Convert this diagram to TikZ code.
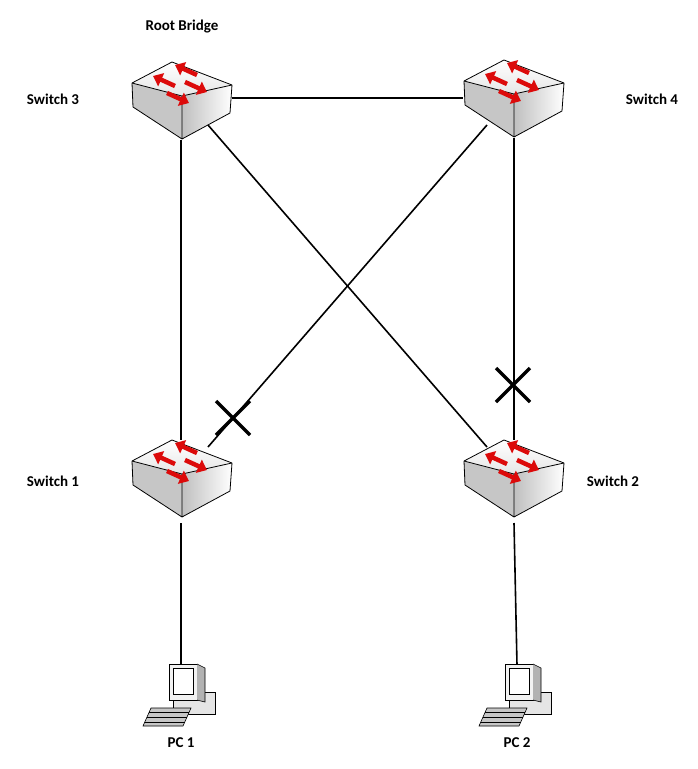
\documentclass[tikz,border=0pt]{standalone}
\usepackage{fontspec}
\setmainfont{Carlito}
\usetikzlibrary{arrows.meta}
\definecolor{arr}{RGB}{220,10,10}
\tikzset{x=1pt,y=-1pt,
 lbl/.style={font=\bfseries\fontsize{15}{17}\selectfont,inner sep=0},
 link/.style={line width=1.6pt},
 xmark/.style={line width=3.2pt},
 sarr/.style={arr,line width=4.5pt,-{Triangle[length=9pt,width=14pt]}},
 switch/.pic={
  \fill[gray!45] (-50,-13) -- (0,0) -- (0,43) -- (-49,11) -- cycle;
  \shade[left color=gray!50,right color=white] (0,0) -- (50,-11) -- (48,17) -- (0,43) -- cycle;
  \shade[top color=white,bottom color=gray!20] (-50,-13) -- (-10,-34) -- (50,-11) -- (0,0) -- cycle;
  \draw[line width=0.8pt,line join=round] (-50,-13) -- (-10,-34) -- (50,-11) -- (48,17) -- (0,43) -- (-49,11) -- cycle (-50,-13) -- (0,0) -- (50,-11) (0,0) -- (0,43);
  \draw[sarr] (15,-21) -- (-7,-31);
  \draw[sarr] (-7,-10) -- (-29,-20);
  \draw[sarr] (3,-14) -- (25,-4);
  \draw[sarr] (-15,-3) -- (7,7);
 },
 pc/.pic={
  \draw[fill=gray!20,line width=0.6pt] (-10,0) -- (32,0) -- (32,22) -- (-10,22) -- cycle;
  \draw[fill=gray!45,line width=0.6pt] (-32,16) -- (8,16) -- (0,34) -- (-40,34) -- cycle;
  \draw[fill=gray!10,line width=0.6pt] (-14,-28) -- (14,-28) -- (14,8) -- (-14,8) -- cycle;
  \fill[gray!60] (14,-28) -- (22,-24) -- (22,10) -- (14,8) -- cycle;
  \draw[line width=0.6pt] (14,-28) -- (22,-24) -- (22,10) -- (14,8);
  \draw[fill=white,line width=0.5pt] (-10,-24) rectangle (10,2);
  \draw[line width=0.4pt] (-34,20) -- (6,20) (-36,25) -- (4,25) (-38,30) -- (2,30);
 }}
\begin{document}
\begin{tikzpicture}
\useasboundingbox (0,0) rectangle (697,769);
\fill[white] (0,0) rectangle (697,769);
\coordinate (s3b) at (181,140); \coordinate (s1t) at (181,440);
\coordinate (s3r) at (232,98); \coordinate (s4l) at (463,98);
\coordinate (s3d) at (208,125); \coordinate (s2d) at (487,447);
\coordinate (s4d) at (487,125); \coordinate (s1d) at (208,447);
\coordinate (s4b) at (514,138); \coordinate (s2t) at (514,440);
\coordinate (s1b) at (181,523); \coordinate (pc1t) at (181,665);
\coordinate (s2b) at (514,523); \coordinate (pc2t) at (517,665);
\draw[link] (s3r) -- (s4l);
\draw[link] (s3b) -- (s1t);
\draw[link] (s3d) -- (s2d);
\draw[link] (s4d) -- (s1d);
\draw[link] (s4b) -- (s2t);
\draw[link] (s1b) -- (pc1t);
\draw[link] (s2b) -- (pc2t);
\pic (sw3) at (182,96) {switch};
\pic (sw4) at (514,94) {switch};
\pic (sw1) at (182,474) {switch};
\pic (sw2) at (514,474) {switch};
\pic (pc1) at (183,692) {pc};
\pic (pc2) at (519,692) {pc};
\coordinate (x1) at (233,418); \coordinate (x2) at (513,385);
\draw[xmark] ([shift={(-17,-17)}]x1) -- ([shift={(17,17)}]x1) ([shift={(17,-17)}]x1) -- ([shift={(-17,17)}]x1);
\draw[xmark] ([shift={(-17,-17)}]x2) -- ([shift={(17,17)}]x2) ([shift={(17,-17)}]x2) -- ([shift={(-17,17)}]x2);
\node[lbl] (rb) at (182,27) {Root Bridge};
\node[lbl] (l3) at (53,99) {Switch 3};
\node[lbl] (l4) at (652,99) {Switch 4};
\node[lbl] (l1) at (53,481) {Switch 1};
\node[lbl] (l2) at (613,481) {Switch 2};
\node[lbl] (p1) at (181,743) {PC 1};
\node[lbl] (p2) at (517,743) {PC 2};
\end{tikzpicture}
\end{document}
